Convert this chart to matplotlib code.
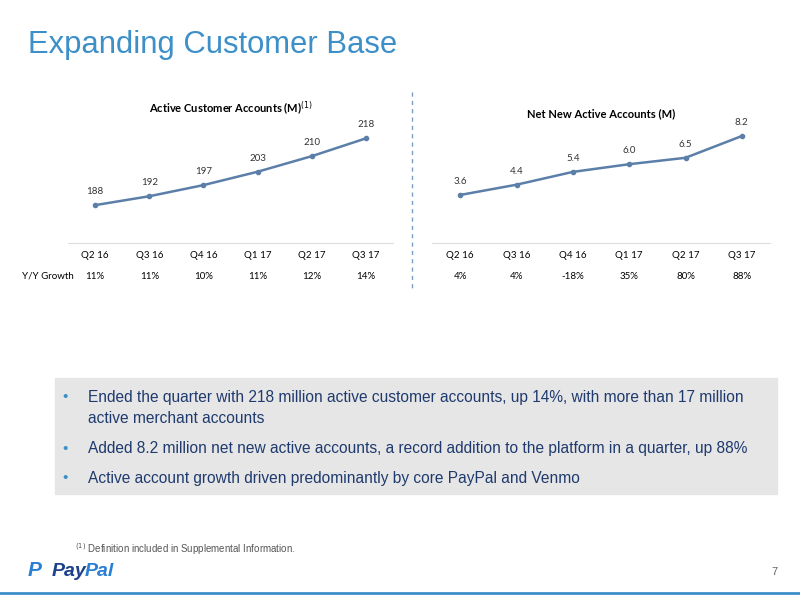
import matplotlib.pyplot as plt
from matplotlib.patches import Rectangle

quarters = ['Q2 16', 'Q3 16', 'Q4 16', 'Q1 17', 'Q2 17', 'Q3 17']
active_accounts = [188, 192, 197, 203, 210, 218]
active_growth = ['11%', '11%', '10%', '11%', '12%', '14%']
net_new = [3.6, 4.4, 5.4, 6.0, 6.5, 8.2]
net_new_labels = ['3.6', '4.4', '5.4', '6.0', '6.5', '8.2']
net_growth = ['4%', '4%', '-18%', '35%', '80%', '88%']
bullets = [
    'Ended the quarter with 218 million active customer accounts, up 14%, with more than 17 million\nactive merchant accounts',
    'Added 8.2 million net new active accounts, a record addition to the platform in a quarter, up 88%',
    'Active account growth driven predominantly by core PayPal and Venmo',
]

W, H = 800, 598
fig = plt.figure(figsize=(8, 5.98), dpi=100)
line_c = '#5b7fa8'
blue = '#3d8fc8'
navy = '#1f3a6e'
cf = 'Lato'
af = 'Liberation Sans'


def px_axes(x0, y0, x1, y1):
    return fig.add_axes([x0 / W, 1 - y1 / H, (x1 - x0) / W, (y1 - y0) / H])


fig.text(28 / W, 1 - 45 / H, 'Expanding Customer Base', fontsize=22.3, color=blue,
         va='center', family=af)


def line_chart(ax, vals, labels, growth, ylim, title):
    xs = range(len(vals))
    ax.plot(xs, vals, color=line_c, lw=1.8, marker='o', ms=3)
    for x, v, l in zip(xs, vals, labels):
        ax.annotate(l, (x, v), xytext=(0, 8), textcoords='offset points',
                    ha='center', fontsize=7, color='#333333', family=cf)
    ax.set_xlim(-0.5, len(vals) - 0.5)
    ax.set_ylim(*ylim)
    for s in ['top', 'right', 'left']:
        ax.spines[s].set_visible(False)
    ax.spines['bottom'].set_color('#dddddd')
    ax.set_yticks([])
    ax.set_xticks(list(xs))
    ax.set_xticklabels(quarters, fontsize=7, family=cf)
    ax.tick_params(axis='x', length=0, pad=6)
    for x, g in zip(xs, growth):
        ax.annotate(g, (x, 0), xycoords=('data', 'axes fraction'), xytext=(0, -24),
                    textcoords='offset points', ha='center', va='center', fontsize=7, family=cf)
    ax.set_title(title, fontsize=8, fontweight='bold', pad=9, family=cf)


ax1 = px_axes(68, 125, 393, 243)
line_chart(ax1, active_accounts, [str(v) for v in active_accounts], active_growth,
           (171, 224), 'Active Customer Accounts (M)$^{(1)}$')
fig.text(22 / W, 1 - 276 / H, 'Y/Y Growth', fontsize=7, va='center', family=cf)

ax2 = px_axes(432, 130, 770, 243)
line_chart(ax2, net_new, net_new_labels, net_growth, (-0.15, 8.67),
           'Net New Active Accounts (M)')

fig.add_artist(plt.Line2D([412 / W, 412 / W], [1 - 92 / H, 1 - 290 / H],
                          ls=(0, (3, 3)), color='#7a9cc8', lw=1))

fig.add_artist(Rectangle((55 / W, 1 - 494 / H), 722 / W, 116 / H, color='#e6e6e6'))
ys = [397, 449, 478]
for y, b in zip(ys, bullets):
    fig.text(62 / W, 1 - y / H, '\u2022', fontsize=11, color=blue, va='center', family=af)
    if '\n' in b:
        fig.text(88 / W, 1 - (y + 11) / H, b, fontsize=11.2, color=navy, va='center',
                 linespacing=1.55, family=af)
    else:
        fig.text(88 / W, 1 - y / H, b, fontsize=11.2, color=navy, va='center', family=af)

fig.text(75 / W, 1 - 549 / H, '$^{(1)}$ Definition included in Supplemental Information.',
         fontsize=7, color='#555555', va='center', family=af)
fig.text(28 / W, 1 - 571 / H, 'P', fontsize=15, fontweight='bold', style='italic',
         color='#2a7fd4', va='center', family=af)
fig.text(52 / W, 1 - 571 / H, 'Pay', fontsize=14, fontweight='bold', style='italic',
         color='#1b3f8a', va='center', family=af)
fig.text(85 / W, 1 - 571 / H, 'Pal', fontsize=14, fontweight='bold', style='italic',
         color='#2a7fd4', va='center', family=af)
fig.text(778 / W, 1 - 572 / H, '7', fontsize=8, color='#666666', ha='right', va='center', family=af)
fig.add_artist(plt.Line2D([0, 1], [1 - 593 / H, 1 - 593 / H], color='#3d8fc8', lw=2))

fig.savefig('out.png', dpi=100)
